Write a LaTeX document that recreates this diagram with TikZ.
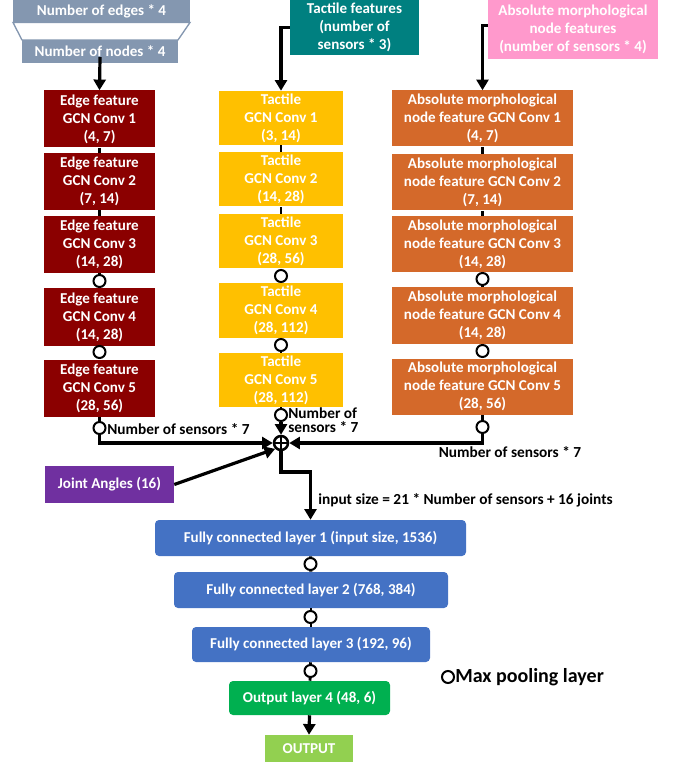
\documentclass[tikz,border=0pt]{standalone}
\usepackage{fontspec}
\setmainfont{Carlito}
\usetikzlibrary{arrows.meta,calc}
\definecolor{edgec}{HTML}{8B0000}
\definecolor{tactc}{HTML}{FFC000}
\definecolor{morphc}{HTML}{D4692A}
\definecolor{purpc}{HTML}{7030A0}
\definecolor{bluec}{HTML}{4472C4}
\definecolor{greenc}{HTML}{00B050}
\definecolor{lgreenc}{HTML}{92D050}
\definecolor{greyc}{HTML}{8497B0}
\definecolor{pinkc}{HTML}{FF99CC}
\definecolor{tealc}{HTML}{008080}
\begin{document}
\begin{tikzpicture}[x=0.75pt,y=-0.75pt,
  box/.style={inner sep=0pt, align=center, text=white, font=\bfseries\fontsize{11.3}{13.5}\selectfont},
  ebox/.style={box, fill=edgec, minimum width=83.25pt, minimum height=42.75pt},
  tbox/.style={box, fill=tactc, minimum width=93pt, minimum height=40.5pt},
  mbox/.style={box, fill=morphc, minimum width=135.75pt, minimum height=42pt},
  fcbox/.style={box, fill=bluec, rounded corners=3pt, minimum height=27pt},
  pool/.style={circle, draw=black, fill=white, line width=1.5pt, minimum size=9pt, inner sep=0pt},
  link/.style={line width=2.2pt, black},
  arr/.style={line width=2.4pt, black, -{Triangle[length=8pt,width=9pt]}},
  lbl/.style={inner sep=0pt, text=black, font=\bfseries\fontsize{11.5}{10.5}\selectfont}
]
\useasboundingbox (0,0) rectangle (673,762);

% top-left input
\fill[greyc] (13,0) rectangle (190,22);
\draw[greyc, line width=1pt, fill=white] (13,22.5) -- (190,22.5) -- (178,40) -- (22,40) -- cycle;
\fill[greyc] (22,40) rectangle (178,63);
\node[box] (nedges) at (101.5,11) {Number of edges * 4};
\node[box] (nnodes) at (100,51.5) {Number of nodes * 4};

\node[box, fill=tealc, minimum width=96.75pt, minimum height=41.25pt] (tf) at (354.5,27.5) {Tactile features\\(number of\\sensors * 3)};
\node[box, fill=pinkc, minimum width=127.5pt, minimum height=44.25pt] (pk) at (573,29.5) {Absolute morphological\\node features\\(number of sensors * 4)};

% edge column
\node[ebox] (e1) at (99.5,119) {Edge feature\\GCN Conv 1\\(4, 7)};
\node[ebox] (e2) at (99.5,181.5) {Edge feature\\GCN Conv 2\\(7, 14)};
\node[ebox] (e3) at (99.5,244.5) {Edge feature\\GCN Conv 3\\(14, 28)};
\node[ebox] (e4) at (99.5,317) {Edge feature\\GCN Conv 4\\(14, 28)};
\node[ebox] (e5) at (99.5,388) {Edge feature\\GCN Conv 5\\(28, 56)};

% tactile column
\node[tbox] (t1) at (281,118) {Tactile\\GCN Conv 1\\(3, 14)};
\node[tbox] (t2) at (281,179.5) {Tactile\\GCN Conv 2\\(14, 28)};
\node[tbox] (t3) at (281,241.5) {Tactile\\GCN Conv 3\\(28, 56)};
\node[tbox] (t4) at (281,310.5) {Tactile\\GCN Conv 4\\(28, 112)};
\node[tbox] (t5) at (281,380) {Tactile\\GCN Conv 5\\(28, 112)};

% morph column
\node[mbox] (m1) at (482.5,118.5) {Absolute morphological\\node feature GCN Conv 1\\(4, 7)};
\node[mbox] (m2) at (482.5,182.5) {Absolute morphological\\node feature GCN Conv 2\\(7, 14)};
\node[mbox] (m3) at (482.5,244) {Absolute morphological\\node feature GCN Conv 3\\(14, 28)};
\node[mbox] (m4) at (482.5,315.5) {Absolute morphological\\node feature GCN Conv 4\\(14, 28)};
\node[mbox] (m5) at (482.5,386.5) {Absolute morphological\\node feature GCN Conv 5\\(28, 56)};

% input arrows
\draw[arr] (nnodes.south) -- (e1.north);
\draw[arr] (tf.west) -| (t1.north);
\draw[arr] ([yshift=3pt]pk.west) -| (m1.north);

% column links
\draw[link] (e1) -- (e2); \draw[link] (e2) -- (e3);
\draw[link] (t1) -- (t2); \draw[link] (t2) -- (t3);
\draw[link] (m1) -- (m2); \draw[link] (m2) -- (m3);

\coordinate (ep1) at (99.5,281); \coordinate (ep2) at (99.5,352);
\coordinate (tp1) at (281,276); \coordinate (tp2) at (281,345);
\coordinate (mp1) at (482.5,279); \coordinate (mp2) at (482.5,351);
\draw[link] (e3) -- (e4); \draw[link] (e4) -- (e5);
\draw[link] (t3) -- (t4); \draw[link] (t4) -- (t5);
\draw[link] (m3) -- (m4); \draw[link] (m4) -- (m5);
\node[pool] (pe1) at (ep1) {}; \node[pool] (pe2) at (ep2) {};
\node[pool] (pt1) at (tp1) {}; \node[pool] (pt2) at (tp2) {};
\node[pool] (pm1) at (mp1) {}; \node[pool] (pm2) at (mp2) {};

% merge
\node[circle, draw=black, line width=1.9pt, minimum size=10.5pt, inner sep=0pt] (sum) at (281,443) {};
\draw[line width=1.6pt] (sum.north) -- (sum.south) (sum.west) -- (sum.east);

\draw[link] (e5.south) -- (99.5,428);
\draw[link] (t5.south) -- (281,415);
\draw[link] (m5.south) -- (482.5,427);
\node[pool] (pe3) at (99.5,428) {};
\node[pool] (pt3) at (281,415) {};
\node[pool] (pm3) at (482.5,427) {};
\draw[arr] (pe3.south) |- (sum.west);
\draw[arr] (pt3.south) -- (sum.north);
\draw[arr] (pm3.south) |- (sum.east);

\node[lbl, anchor=west] (l1) at (107,429) {Number of sensors * 7};
\node[lbl, anchor=west, align=left] (l2) at (288,420) {Number of\\sensors * 7};
\node[lbl] (l3) at (510,452) {Number of sensors * 7};

\node[box, fill=purpc, minimum width=96.75pt, minimum height=27.75pt] (ja) at (109.5,484.5) {Joint Angles (16)};
\draw[arr] (ja.east) -- (sum.south west);

% FC layers
\node[fcbox, minimum width=233.25pt] (fc1) at (310.5,538) {Fully connected layer 1 (input size, 1536)};
\node[fcbox, minimum width=205.5pt] (fc2) at (311,590) {Fully connected layer 2 (768, 384)};
\node[fcbox, minimum width=178.5pt, minimum height=26.25pt] (fc3) at (311,644.5) {Fully connected layer 3 (192, 96)};
\node[box, fill=greenc, rounded corners=3pt, minimum width=120.75pt, minimum height=25.5pt] (ol) at (309.5,698) {Output layer 4 (48, 6)};
\node[box, fill=lgreenc, minimum width=66pt, minimum height=20.25pt] (out) at (309,748.5) {OUTPUT};

\coordinate (bend) at (281,472);
\draw[arr] (sum.south) -- (bend) -| (fc1.north);
\node[lbl, anchor=west] (l4) at (318,500) {input size = 21 * Number of sensors + 16 joints};

\draw[link] (fc1) -- (fc2); \draw[link] (fc2) -- (fc3); \draw[link] (fc3) -- (ol);
\node[pool] (pf1) at (310.5,564) {};
\node[pool] (pf2) at (310.5,617) {};
\node[pool] (pf3) at (310.5,671) {};
\draw[arr] (ol.south) -- (out.north);

% legend
\node[pool] (lgc) at (448,677) {};
\node[lbl, anchor=west, font=\bfseries\fontsize{15}{17}\selectfont] (lgt) at (455,677) {Max pooling layer};
\end{tikzpicture}
\end{document}
